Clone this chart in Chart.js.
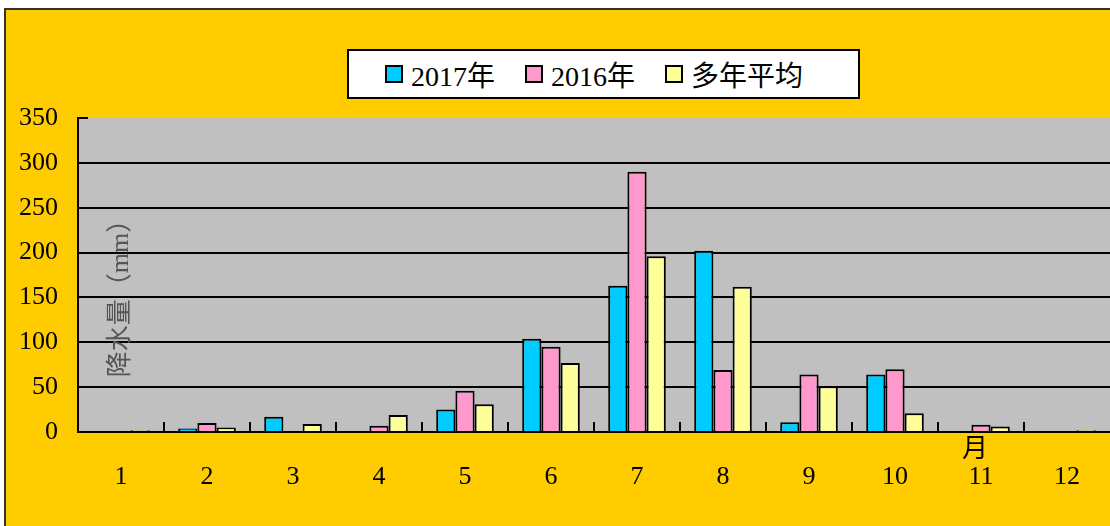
<!DOCTYPE html>
<html lang="zh-cn">
<head>
    <meta charset="UTF-8">
    <title>降水量</title>
    <script src="https://cdn.jsdelivr.net/npm/chart.js"></script>
    <style>
        body { margin: 0; background: #fff; }
        #wrap { position: relative; width: 1110px; height: 526px; overflow: hidden; }
        #legenda {
            position: absolute; left: 347px; top: 49px; width: 513px; height: 50px;
            background: #fff; border: 2px solid #000; box-sizing: border-box;
            display: flex; align-items: center; padding-left: 36px;
            font: 28px 'Liberation Serif', 'Noto Sans CJK SC', serif; color: #000;
        }
        #legenda .item { display: flex; align-items: center; margin-right: 30px; }
        #legenda .cor { width: 14px; height: 14px; border: 2px solid #000; margin-right: 8px; }
    </style>
</head>
<body>
    <div id="wrap">
        <canvas id="chuvaChart" width="1110" height="526"></canvas>
        <div id="legenda"></div>
    </div>

    <script>
        // dados
        const meses = ['1', '2', '3', '4', '5', '6', '7', '8', '9', '10', '11', '12'];
        const chuva2017 = [1, 4, 17, 0, 25, 104, 163, 202, 11, 64, 0, 0];
        const chuva2016 = [0, 10, 0, 7, 46, 95, 290, 69, 64, 70, 8, 0];
        const mediaAnos = [2, 5, 9, 19, 31, 77, 196, 162, 51, 21, 6, 2];
        const rotulos = ['2017年', '2016年', '多年平均'];
        const cores = ['#00CCFF', '#FF99CC', '#FFFF99'];

        const fonte = "'Liberation Serif', 'Noto Sans CJK SC', serif";

        // fundo amarelo, area cinza, titulos e marquinhas
        const fundo = {
            id: 'fundo',
            beforeDraw(chart) {
                const ctx = chart.ctx, a = chart.chartArea;
                ctx.save();
                ctx.fillStyle = '#fff';
                ctx.fillRect(0, 0, chart.width, chart.height);
                ctx.fillStyle = '#FFCC00';
                ctx.fillRect(5, 9, chart.width, chart.height);
                ctx.strokeStyle = '#333';
                ctx.lineWidth = 2;
                ctx.beginPath();
                ctx.moveTo(5, chart.height);
                ctx.lineTo(5, 9);
                ctx.lineTo(chart.width, 9);
                ctx.stroke();
                ctx.fillStyle = '#C0C0C0';
                ctx.fillRect(a.left, a.top, a.right - a.left, a.bottom - a.top);
                ctx.restore();
            },
            afterDraw(chart) {
                const ctx = chart.ctx, a = chart.chartArea;
                const x = chart.scales.x, y = chart.scales.y;
                ctx.save();
                ctx.strokeStyle = '#000';
                ctx.lineWidth = 2;
                ctx.beginPath();
                for (let i = 1; i < meses.length; i++) {
                    const px = (x.getPixelForValue(i - 1) + x.getPixelForValue(i)) / 2;
                    ctx.moveTo(px, a.bottom);
                    ctx.lineTo(px, a.bottom - 10);
                }
                const topo = y.getPixelForValue(350);
                ctx.moveTo(a.left, topo);
                ctx.lineTo(a.left + 10, topo);
                ctx.stroke();

                // titulo do eixo y dentro da area
                ctx.fillStyle = '#555';
                ctx.font = '26px ' + fonte;
                ctx.textAlign = 'center';
                ctx.textBaseline = 'middle';
                ctx.translate(a.left + 43, y.getPixelForValue(156));
                ctx.rotate(-Math.PI / 2);
                ctx.fillText('降水量（mm）', 0, 0);
                ctx.restore();

                ctx.save();
                ctx.fillStyle = '#000';
                ctx.font = '26px ' + fonte;
                ctx.textAlign = 'center';
                ctx.textBaseline = 'middle';
                ctx.fillText('月', x.getPixelForValue(10) - 6, a.bottom + 18);
                ctx.restore();
            }
        };

        const legenda = document.getElementById('legenda');
        rotulos.forEach((r, i) => {
            legenda.innerHTML += `<div class="item"><div class="cor" style="background:${cores[i]}"></div>${r}</div>`;
        });

        const series = [chuva2017, chuva2016, mediaAnos];

        new Chart(document.getElementById('chuvaChart'), {
            type: 'bar',
            data: {
                labels: meses,
                datasets: series.map((s, i) => ({
                    label: rotulos[i],
                    data: s,
                    backgroundColor: cores[i],
                    borderColor: '#000',
                    borderWidth: 2,
                    borderSkipped: 'bottom',
                    categoryPercentage: 0.67,
                    barPercentage: 1
                }))
            },
            options: {
                responsive: false,
                animation: false,
                layout: { padding: { top: 118, left: 0, right: 0, bottom: 0 } },
                plugins: { legend: { display: false }, tooltip: { enabled: false } },
                scales: {
                    x: {
                        grid: { display: false },
                        border: { color: '#000', width: 2 },
                        ticks: { color: '#000', font: { family: fonte, size: 26 }, padding: 22 },
                        afterFit(s) { s.height = 94; }
                    },
                    y: {
                        min: 0,
                        max: 350,
                        ticks: { stepSize: 50, color: '#000', font: { family: fonte, size: 26 }, padding: 20 },
                        grid: {
                            color: ctx => (ctx.tick && (ctx.tick.value === 350 || ctx.tick.value === 0)) ? 'rgba(0,0,0,0)' : '#000',
                            lineWidth: 2,
                            drawTicks: false
                        },
                        border: { color: '#000', width: 2 },
                        afterFit(s) { s.width = 78; }
                    }
                }
            },
            plugins: [fundo]
        });
    </script>
</body>
</html>
